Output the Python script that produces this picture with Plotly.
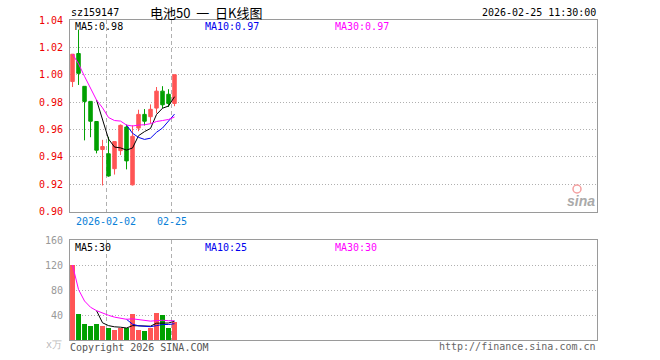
import plotly.graph_objects as go

# ---------------- data ----------------
dates = ["2026-01-23", "2026-01-26", "2026-01-27", "2026-01-28", "2026-01-29", "2026-01-30",
         "2026-02-02", "2026-02-03", "2026-02-04", "2026-02-05", "2026-02-06",
         "2026-02-09", "2026-02-10", "2026-02-11", "2026-02-12", "2026-02-13",
         "2026-02-24", "2026-02-25"]
open_ = [0.995, 1.0155, 0.9915, 0.9805, 0.9658, 0.9453, 0.9422, 0.9313, 0.9445, 0.9617,
         0.9195, 0.961, 0.971, 0.9693, 0.9756, 0.988, 0.9857, 0.979]
high = [1.015, 1.033, 0.9915, 0.9805, 0.966, 0.9524, 0.9546, 0.9511, 0.9636, 0.9636,
        0.963, 0.9744, 0.9749, 0.9783, 0.991, 0.9916, 0.9894, 1.000]
low = [0.991, 0.9925, 0.952, 0.9543, 0.9425, 0.919, 0.9254, 0.927, 0.9413, 0.9308,
       0.919, 0.9587, 0.9629, 0.9644, 0.9717, 0.9756, 0.9764, 0.977]
close = [1.015, 1.001, 0.9805, 0.966, 0.9448, 0.9475, 0.926, 0.9511, 0.963, 0.937,
         0.955, 0.971, 0.966, 0.9747, 0.988, 0.978, 0.979, 1.000]
ma5 = [None, None, None, None, 0.9815, 0.968, 0.953, 0.9471, 0.9465, 0.9449,
       0.9464, 0.9554, 0.9584, 0.9607, 0.9709, 0.9755, 0.9771, 0.9839]
ma10 = [None] * 9 + [0.9632, 0.9572, 0.9542, 0.9527, 0.9536, 0.9579, 0.961, 0.9663, 0.9712]
ma30 = [1.015, 1.008, 0.9988, 0.9906, 0.9815, 0.9758, 0.9687, 0.9665, 0.9661, 0.9632,
        0.9625, 0.9632, 0.9634, 0.9642, 0.9658, 0.9665, 0.9673, 0.9691]

volume = [120, 41.6, 25.6, 22.4, 25.6, 22.4, 19.2, 16, 19.2, 19.2,
          41.6, 16, 14.4, 19.2, 43.2, 40, 19.2, 28.8]
vma5 = [None, None, None, None, 47.0, 27.5, 23.0, 21.1, 20.5, 19.2,
        23.0, 22.4, 22.1, 22.1, 26.9, 26.6, 27.2, 30.1]
vma10 = [None] * 9 + [33.1, 25.3, 22.7, 21.6, 21.3, 23.0, 24.8, 24.8, 26.1]
vma30 = [120, 80.8, 62.4, 52.4, 47.0, 42.9, 39.5, 36.6, 34.7, 33.1,
         33.9, 32.4, 31.0, 30.2, 31.0, 31.6, 30.9, 30.8]

tick_dates = ["2026-02-02", "2026-02-25"]
tick_text = ["2026-02-02", "02-25"]
price_ticks = [0.90, 0.92, 0.94, 0.96, 0.98, 1.00, 1.02, 1.04]
vol_ticks = [40, 80, 120, 160]

code = "sz159147"
title = "电池50 一 日K线图"
stamp = "2026-02-25 11:30:00"
ma_labels = ["MA5:0.98", "MA10:0.97", "MA30:0.97"]
vma_labels = ["MA5:30", "MA10:25", "MA30:30"]

# ---------------- style ----------------
RED = "#ff5555"
GREEN = "#00a000"
BLUE = "#0000ee"
MAG = "#ff00ff"
BORDER = "#9a9a9a"
GRID = "#b0b0b0"
MONO = "DejaVu Sans Mono"

idx = list(range(len(dates)))
tickpos = [dates.index(d) - 0.42 for d in tick_dates]

fig = go.Figure()

fig.add_trace(go.Candlestick(
    x=idx, open=open_, high=high, low=low, close=close,
    increasing=dict(line=dict(color=RED, width=1), fillcolor=RED),
    decreasing=dict(line=dict(color=GREEN, width=1), fillcolor=GREEN),
    whiskerwidth=0, xaxis="x", yaxis="y", hoverinfo="skip"))

for vals, col in [(ma5, "#000000"), (ma10, BLUE), (ma30, MAG)]:
    fig.add_trace(go.Scatter(x=idx, y=vals, mode="lines", line=dict(color=col, width=1),
                             xaxis="x", yaxis="y", hoverinfo="skip"))

vcolors = [RED if c >= o else GREEN for o, c in zip(open_, close)]
fig.add_trace(go.Bar(x=idx, y=volume, marker=dict(color=vcolors, line=dict(width=0)),
                     width=0.83, xaxis="x2", yaxis="y2", hoverinfo="skip"))
for vals, col in [(vma5, "#000000"), (vma10, BLUE), (vma30, MAG)]:
    fig.add_trace(go.Scatter(x=idx, y=vals, mode="lines", line=dict(color=col, width=1),
                             xaxis="x2", yaxis="y2", hoverinfo="skip"))

L, R, T, B = 70, 63, 20, 20
W, H = 660, 360
PW, PH = W - L - R, H - T - B


def px(x):
    return (x - L) / PW


def py(y):
    return (H - B - y) / PH


axis_common = dict(showline=True, mirror=True, linecolor=BORDER, linewidth=1,
                   zeroline=False, ticks="", fixedrange=True)

fig.update_layout(
    width=W, height=H,
    margin=dict(l=L, r=R, t=T, b=B),
    paper_bgcolor="white", plot_bgcolor="white",
    showlegend=False, boxgap=0.17,
    font=dict(family=MONO, size=10, color="#000"),
    xaxis=dict(domain=[0, 1], anchor="y", range=[-0.42, 87.42],
               tickvals=tickpos, ticktext=tick_text,
               tickfont=dict(color="#0a7fd8", size=10, family=MONO),
               showgrid=True, gridcolor=GRID, griddash="4px,3px", gridwidth=1,
               rangeslider=dict(visible=False), **axis_common),
    yaxis=dict(domain=[py(211.5), 1], anchor="x", range=[0.90, 1.04],
               tickvals=price_ticks, tickformat=".2f",
               tickfont=dict(color="#ee0000", size=10, family=MONO),
               showgrid=True, gridcolor=GRID, griddash="1px,2px", gridwidth=1,
               ticklabelstandoff=4, **axis_common),
    xaxis2=dict(domain=[0, 1], anchor="y2", range=[-0.42, 87.42], matches="x",
                tickvals=tickpos, showticklabels=False,
                showgrid=True, gridcolor=GRID, griddash="4px,3px", gridwidth=1,
                **axis_common),
    yaxis2=dict(domain=[0, py(240)], anchor="x2", range=[0, 160],
                tickvals=vol_ticks,
                tickfont=dict(color="#999999", size=10, family=MONO),
                showgrid=True, gridcolor=GRID, griddash="1px,2px", gridwidth=1,
                ticklabelstandoff=4, **axis_common),
)

ann = []


def text(x, y, s, color="#000", size=10, xanchor="left", family=MONO, **kw):
    ann.append(dict(x=px(x), y=py(y), xref="paper", yref="paper", text=s,
                    showarrow=False, xanchor=xanchor, yanchor="middle",
                    font=dict(color=color, size=size, family=family), **kw))


text(69, 13, code, size=10)
text(206, 12, title.replace(" ", "&nbsp;&nbsp;"), size=13, xanchor="center",
     family="Noto Sans CJK SC")
text(598, 13, stamp, size=10, xanchor="right")
for lbl, x, col in zip(ma_labels, [73, 203, 333], ["#000", BLUE, MAG]):
    text(x, 27, lbl, color=col, size=10)
for lbl, x, col in zip(vma_labels, [73, 203, 333], ["#000", BLUE, MAG]):
    text(x, 247, lbl, color=col, size=10)
text(64, 344, "x万", color="#bbbbbb", size=10, xanchor="right")
text(68, 347, "Copyright 2026 SINA.COM", color="#555555", size=10)
text(598, 346, "http://finance.sina.com.cn", color="#666666", size=10, xanchor="right")
text(581, 201, "<b><i>sina</i></b>", color="#aaaaaa", size=14, xanchor="center",
     family="Liberation Sans")
fig.update_layout(annotations=ann)

fig.add_shape(type="circle", xref="paper", yref="paper",
              x0=px(573), x1=px(581), y0=py(193), y1=py(185),
              line=dict(color="#f4a0a0", width=1.5), fillcolor="rgba(0,0,0,0)")

fig.write_html("out.html", config={"displayModeBar": False, "staticPlot": True},
               post_script="document.body.style.margin='0';document.body.style.padding='0';")
